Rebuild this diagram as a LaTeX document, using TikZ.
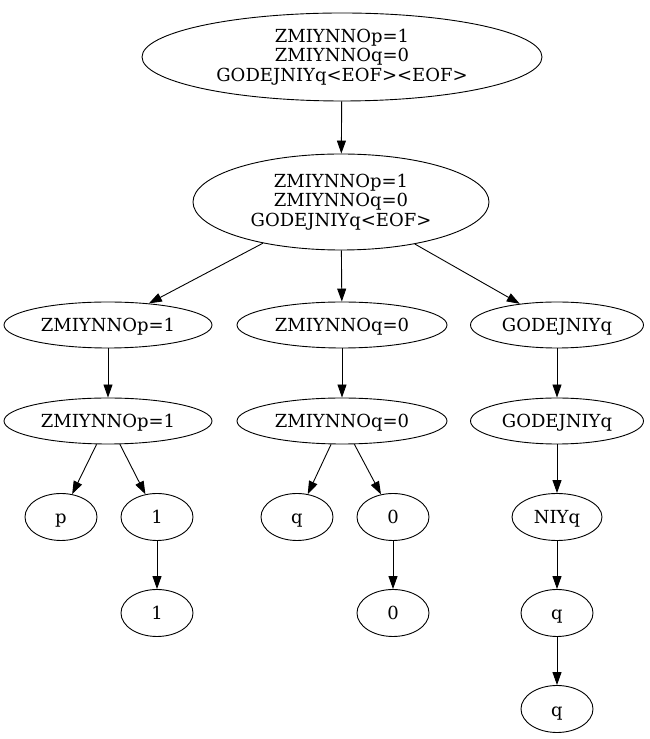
\documentclass[tikz,border=0pt]{standalone}
\usepackage{fontspec}
\setmainfont{DejaVu Serif}
\usetikzlibrary{arrows.meta,shapes.geometric}
\begin{document}
\begin{tikzpicture}[x=1pt,y=1pt,
  nd/.style={draw,ellipse,inner sep=0pt,line width=0.9pt,font=\fontsize{18}{19.5}\selectfont,align=center},
  sl/.style={draw,ellipse,inner sep=0pt,line width=0.9pt,font=\fontsize{18}{19.5}\selectfont,text height=14pt,text depth=0pt},
  edge/.style={draw,line width=0.9pt,-{Triangle[length=13pt,width=9pt]}}]
\useasboundingbox (0,0) rectangle (650,739);
\node[nd,minimum width=400,minimum height=88] (a) at (342,739-57) {ZMIYNNOp=1\\ZMIYNNOq=0\\GODEJNIYq<EOF><EOF>};
\node[nd,minimum width=296,minimum height=96] (b) at (341,739-202) {ZMIYNNOp=1\\ZMIYNNOq=0\\GODEJNIYq<EOF>};
\node[sl,minimum width=208,minimum height=46] (c1) at (108,739-325) {ZMIYNNOp=1};
\node[sl,minimum width=210,minimum height=46] (c2) at (342,739-325) {ZMIYNNOq=0};
\node[sl,minimum width=173,minimum height=46] (c3) at (557,739-325) {GODEJNIYq};
\node[sl,minimum width=208,minimum height=46] (d1) at (108,739-421) {ZMIYNNOp=1};
\node[sl,minimum width=210,minimum height=46] (d2) at (342,739-421) {ZMIYNNOq=0};
\node[sl,minimum width=173,minimum height=46] (d3) at (557,739-421) {GODEJNIYq};
\node[sl,minimum width=72,minimum height=47] (e1) at (61,739-517) {p};
\node[sl,minimum width=72,minimum height=47] (e2) at (157,739-517) {1};
\node[sl,minimum width=72,minimum height=47] (e3) at (297,739-517) {q};
\node[sl,minimum width=72,minimum height=47] (e4) at (393,739-517) {0};
\node[sl,minimum width=90,minimum height=47] (e5) at (557,739-517) {NIYq};
\node[sl,minimum width=72,minimum height=47] (f2) at (157,739-613) {1};
\node[sl,minimum width=72,minimum height=47] (f4) at (393,739-613) {0};
\node[sl,minimum width=72,minimum height=47] (f5) at (557,739-613) {q};
\node[sl,minimum width=72,minimum height=47] (g5) at (557,739-709) {q};
\path[edge] (a) -- (b);
\path[edge] (b) -- (c1);
\path[edge] (b) -- (c2);
\path[edge] (b) -- (c3);
\path[edge] (c1) -- (d1);
\path[edge] (c2) -- (d2);
\path[edge] (c3) -- (d3);
\path[edge] (d1) -- (e1);
\path[edge] (d1) -- (e2);
\path[edge] (d2) -- (e3);
\path[edge] (d2) -- (e4);
\path[edge] (d3) -- (e5);
\path[edge] (e2) -- (f2);
\path[edge] (e4) -- (f4);
\path[edge] (e5) -- (f5);
\path[edge] (f5) -- (g5);
\end{tikzpicture}
\end{document}
